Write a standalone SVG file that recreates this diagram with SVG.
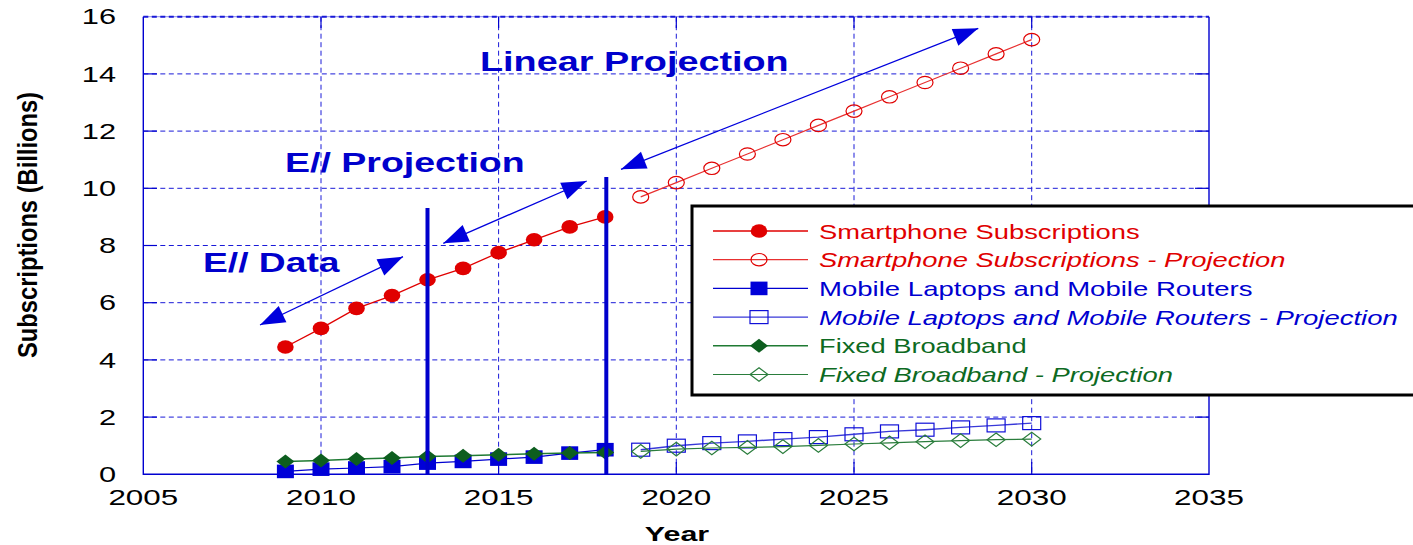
<svg xmlns="http://www.w3.org/2000/svg" xmlns:xlink="http://www.w3.org/1999/xlink" width="1413" height="545" viewBox="0 0 1413 545">
<style>
  text { font-family: "Liberation Sans", Arial, sans-serif; }
  .grid { stroke: #1a1ad8; stroke-width: 1; stroke-dasharray: 5 3.5; fill: none; }
  .axis { stroke: #0000d0; stroke-width: 1.4; fill: none; }
  .tick { stroke: #0000d0; stroke-width: 1.2; }
  .num { font-size: 21.5px; fill: #000; }
  .ann { font-size: 28px; font-weight: bold; fill: #0000cc; }
  .leg { font-size: 20px; }
  .red { fill: #e00000; }
  .blue { fill: #0000d0; }
  .green { fill: #0d6a22; }
  .it { font-style: italic; }
  .lred { stroke: #e00000; stroke-width: 1.3; fill: none; }
  .lredp { stroke: #e83030; stroke-width: 1.2; fill: none; }
  .lblue { stroke: #0000d0; stroke-width: 1.2; fill: none; }
  .lbluep { stroke: #3838d8; stroke-width: 1.4; fill: none; }
  .lgreen { stroke: #1f7a33; stroke-width: 1.5; fill: none; }
  .lgreenp { stroke: #2a7d3c; stroke-width: 1.2; fill: none; }
  .bar { stroke: #0000cc; stroke-width: 4; }
  .arr { stroke: #0000dd; stroke-width: 1.3; fill: none; marker-start: url(#ah); marker-end: url(#ah); }
</style>
<defs>
  <marker id="ah" markerUnits="userSpaceOnUse" markerWidth="30" markerHeight="22" viewBox="0 -11 26 22" refX="25" refY="0" orient="auto-start-reverse">
    <path d="M0,-9 L25,0 L0,9 Z" fill="#0000dd"/>
  </marker>
  <ellipse id="dotF" rx="8.3" ry="6.8" fill="#e00000"/>
  <ellipse id="dotO" rx="8" ry="6.2" fill="none" stroke="#e00000" stroke-width="1.2"/>
  <rect id="sqF" x="-8.5" y="-6.8" width="17" height="13.6" fill="#0000d8"/>
  <rect id="sqO" x="-9" y="-6.5" width="18" height="13" fill="none" stroke="#1010d8" stroke-width="1.2"/>
  <polygon id="diaF" points="0,-7 9,0 0,7 -9,0" fill="#0d5e1f"/>
  <polygon id="diaO" points="0,-6.8 9,0 0,6.8 -9,0" fill="none" stroke="#2a7d3c" stroke-width="1.2"/>
</defs>

<rect x="0" y="0" width="1413" height="545" fill="#ffffff"/>

<g id="grid">
  <line class="grid" x1="143.3" y1="417.1" x2="1209" y2="417.1"/>
  <line class="grid" x1="143.3" y1="359.9" x2="1209" y2="359.9"/>
  <line class="grid" x1="143.3" y1="302.7" x2="1209" y2="302.7"/>
  <line class="grid" x1="143.3" y1="245.5" x2="1209" y2="245.5"/>
  <line class="grid" x1="143.3" y1="188.3" x2="1209" y2="188.3"/>
  <line class="grid" x1="143.3" y1="131.1" x2="1209" y2="131.1"/>
  <line class="grid" x1="143.3" y1="73.9" x2="1209" y2="73.9"/>
  <line class="grid" x1="321" y1="16.7" x2="321" y2="474.3"/>
  <line class="grid" x1="498.6" y1="16.7" x2="498.6" y2="474.3"/>
  <line class="grid" x1="676.3" y1="16.7" x2="676.3" y2="474.3"/>
  <line class="grid" x1="854" y1="16.7" x2="854" y2="474.3"/>
  <line class="grid" x1="1031.7" y1="16.7" x2="1031.7" y2="474.3"/>
  <line x1="143.3" y1="16.7" x2="1209" y2="16.7" stroke="#8a8ae8" stroke-width="1"/>
  <line x1="143.3" y1="16.7" x2="1209" y2="16.7" stroke="#1a1ad8" stroke-width="2" stroke-dasharray="5 3.5"/>
  <path class="axis" d="M143.3,16.7 V474.3 H1209 V16.7"/>
  <g class="tick">
    <line x1="143.3" y1="417.1" x2="157" y2="417.1"/><line x1="143.3" y1="359.9" x2="157" y2="359.9"/>
    <line x1="143.3" y1="302.7" x2="157" y2="302.7"/><line x1="143.3" y1="245.5" x2="157" y2="245.5"/>
    <line x1="143.3" y1="188.3" x2="157" y2="188.3"/><line x1="143.3" y1="131.1" x2="157" y2="131.1"/>
    <line x1="143.3" y1="73.9" x2="157" y2="73.9"/>
    <line x1="1195" y1="417.1" x2="1209" y2="417.1"/><line x1="1195" y1="359.9" x2="1209" y2="359.9"/>
    <line x1="1195" y1="302.7" x2="1209" y2="302.7"/><line x1="1195" y1="245.5" x2="1209" y2="245.5"/>
    <line x1="1195" y1="188.3" x2="1209" y2="188.3"/><line x1="1195" y1="131.1" x2="1209" y2="131.1"/>
    <line x1="1195" y1="73.9" x2="1209" y2="73.9"/>
    <line x1="321" y1="474.3" x2="321" y2="462"/><line x1="498.6" y1="474.3" x2="498.6" y2="462"/>
    <line x1="676.3" y1="474.3" x2="676.3" y2="462"/><line x1="854" y1="474.3" x2="854" y2="462"/>
    <line x1="1031.7" y1="474.3" x2="1031.7" y2="462"/>
    <line x1="321" y1="16.7" x2="321" y2="28"/><line x1="498.6" y1="16.7" x2="498.6" y2="28"/>
    <line x1="676.3" y1="16.7" x2="676.3" y2="28"/><line x1="854" y1="16.7" x2="854" y2="28"/>
    <line x1="1031.7" y1="16.7" x2="1031.7" y2="28"/>
  </g>
</g>

<g id="axis-labels">
  <g class="num" text-anchor="end">
    <text transform="translate(116,482) scale(1.43,1)">0</text>
    <text transform="translate(116,424.8) scale(1.43,1)">2</text>
    <text transform="translate(116,367.6) scale(1.43,1)">4</text>
    <text transform="translate(116,310.4) scale(1.43,1)">6</text>
    <text transform="translate(116,253.2) scale(1.43,1)">8</text>
    <text transform="translate(116,196) scale(1.43,1)">10</text>
    <text transform="translate(116,138.8) scale(1.43,1)">12</text>
    <text transform="translate(116,81.6) scale(1.43,1)">14</text>
    <text transform="translate(116,24.4) scale(1.43,1)">16</text>
  </g>
  <g class="num" text-anchor="middle">
    <text transform="translate(143.3,505) scale(1.46,1)">2005</text>
    <text transform="translate(321,505) scale(1.46,1)">2010</text>
    <text transform="translate(498.6,505) scale(1.46,1)">2015</text>
    <text transform="translate(676.3,505) scale(1.46,1)">2020</text>
    <text transform="translate(854,505) scale(1.46,1)">2025</text>
    <text transform="translate(1031.7,505) scale(1.46,1)">2030</text>
    <text transform="translate(1209,505) scale(1.46,1)">2035</text>
  </g>
  <text transform="translate(677,541) scale(1.45,1)" text-anchor="middle" font-size="21" font-weight="bold">Year</text>
  <text transform="translate(36.7,225) rotate(-90) scale(1,1.2)" text-anchor="middle" font-size="23.5" font-weight="bold" textLength="266" lengthAdjust="spacingAndGlyphs">Subscriptions (Billions)</text>
</g>

<g id="series-mobile">
  <polyline class="lblue" points="285.4,471.4 321,469.15 356.5,468 392,466.6 427.5,463.1 463.1,461.4 498.6,459.1 534.1,457.1 569.7,453.1 605.2,449.7"/>
  <polyline class="lbluep" points="640.7,449.7 676.3,445.7 711.8,443.1 747.4,441.4 782.9,439.1 818.4,437.1 854,434.3 889.5,431.4 925,429.7 960.6,427.4 996.1,425.4 1031.7,423.1"/>
  <use href="#sqF" x="285.4" y="471.4"/><use href="#sqF" x="321" y="469.15"/><use href="#sqF" x="356.5" y="468"/>
  <use href="#sqF" x="392" y="466.6"/><use href="#sqF" x="427.5" y="463.1"/><use href="#sqF" x="463.1" y="461.4"/>
  <use href="#sqF" x="498.6" y="459.1"/><use href="#sqF" x="534.1" y="457.1"/><use href="#sqF" x="569.7" y="453.1"/>
  <use href="#sqF" x="605.2" y="449.7"/>
  <use href="#sqO" x="640.7" y="449.7"/><use href="#sqO" x="676.3" y="445.7"/><use href="#sqO" x="711.8" y="443.1"/>
  <use href="#sqO" x="747.4" y="441.4"/><use href="#sqO" x="782.9" y="439.1"/><use href="#sqO" x="818.4" y="437.1"/>
  <use href="#sqO" x="854" y="434.3"/><use href="#sqO" x="889.5" y="431.4"/><use href="#sqO" x="925" y="429.7"/>
  <use href="#sqO" x="960.6" y="427.4"/><use href="#sqO" x="996.1" y="425.4"/><use href="#sqO" x="1031.7" y="423.1"/>
</g>

<g id="series-fixed">
  <polyline class="lgreen" points="285.4,461.4 321,460.6 356.5,459.1 392,458 427.5,456.6 463.1,455.7 498.6,454.8 534.1,453.7 569.7,453.1 605.2,452.6"/>
  <polyline class="lgreenp" points="640.7,451.4 676.3,449.1 711.8,448 747.4,447.4 782.9,446.6 818.4,445.4 854,444 889.5,442.8 925,441.7 960.6,440.6 996.1,439.7 1031.7,439.1"/>
  <use href="#diaF" x="285.4" y="461.4"/><use href="#diaF" x="321" y="460.6"/><use href="#diaF" x="356.5" y="459.1"/>
  <use href="#diaF" x="392" y="458"/><use href="#diaF" x="427.5" y="456.6"/><use href="#diaF" x="463.1" y="455.7"/>
  <use href="#diaF" x="498.6" y="454.8"/><use href="#diaF" x="534.1" y="453.7"/><use href="#diaF" x="569.7" y="453.1"/>
  <use href="#diaF" x="605.2" y="452.6"/>
  <use href="#diaO" x="640.7" y="451.4"/><use href="#diaO" x="676.3" y="449.1"/><use href="#diaO" x="711.8" y="448"/>
  <use href="#diaO" x="747.4" y="447.4"/><use href="#diaO" x="782.9" y="446.6"/><use href="#diaO" x="818.4" y="445.4"/>
  <use href="#diaO" x="854" y="444"/><use href="#diaO" x="889.5" y="442.8"/><use href="#diaO" x="925" y="441.7"/>
  <use href="#diaO" x="960.6" y="440.6"/><use href="#diaO" x="996.1" y="439.7"/><use href="#diaO" x="1031.7" y="439.1"/>
</g>

<g id="series-smartphone">
  <polyline class="lred" points="285.4,347 321,328.4 356.5,308.4 392,295.55 427.5,279.8 463.1,268.4 498.6,252.65 534.1,239.8 569.7,226.9 605.2,216.9"/>
  <polyline class="lredp" points="640.7,196.9 676.3,182.6 711.8,168.3 747.4,154 782.9,139.7 818.4,125.4 854,111.1 889.5,96.8 925,82.5 960.6,68.2 996.1,53.9 1031.7,39.6"/>
  <use href="#dotF" x="285.4" y="347"/><use href="#dotF" x="321" y="328.4"/><use href="#dotF" x="356.5" y="308.4"/>
  <use href="#dotF" x="392" y="295.55"/><use href="#dotF" x="427.5" y="279.8"/><use href="#dotF" x="463.1" y="268.4"/>
  <use href="#dotF" x="498.6" y="252.65"/><use href="#dotF" x="534.1" y="239.8"/><use href="#dotF" x="569.7" y="226.9"/>
  <use href="#dotF" x="605.2" y="216.9"/>
  <use href="#dotO" x="640.7" y="196.9"/><use href="#dotO" x="676.3" y="182.6"/><use href="#dotO" x="711.8" y="168.3"/>
  <use href="#dotO" x="747.4" y="154"/><use href="#dotO" x="782.9" y="139.7"/><use href="#dotO" x="818.4" y="125.4"/>
  <use href="#dotO" x="854" y="111.1"/><use href="#dotO" x="889.5" y="96.8"/><use href="#dotO" x="925" y="82.5"/>
  <use href="#dotO" x="960.6" y="68.2"/><use href="#dotO" x="996.1" y="53.9"/><use href="#dotO" x="1031.7" y="39.6"/>
</g>

<g id="bar-2013"><line class="bar" x1="427.5" y1="208" x2="427.5" y2="474.3"/></g>
<g id="bar-2018"><line class="bar" x1="606.3" y1="177" x2="606.3" y2="474.3"/></g>

<g id="connectors">
  <line class="arr" x1="260" y1="325" x2="403" y2="256.7"/>
  <line class="arr" x1="443.3" y1="243.3" x2="586.7" y2="181"/>
  <line class="arr" x1="621" y1="169.3" x2="978.3" y2="28.3"/>
</g>

<g id="label-linear"><text class="ann" transform="translate(480,70.5) scale(1.35,1)">Linear Projection</text></g>
<g id="label-eproj"><text class="ann" transform="translate(285,171.7) scale(1.34,1)">E// Projection</text></g>
<g id="label-edata"><text class="ann" transform="translate(203,271.7) scale(1.33,1)">E// Data</text></g>

<g id="legend">
  <rect x="692" y="206" width="740" height="189" fill="#ffffff" stroke="#000000" stroke-width="3"/>
  <line class="lred" x1="713" y1="231" x2="808" y2="231"/>
  <use href="#dotF" x="759" y="231"/>
  <text class="leg red" transform="translate(819,238.5) scale(1.37,1)" textLength="234" lengthAdjust="spacingAndGlyphs">Smartphone Subscriptions</text>
  <line class="lredp" x1="713" y1="259.7" x2="808" y2="259.7"/>
  <use href="#dotO" x="759" y="259.7"/>
  <text class="leg red it" transform="translate(819,267.2) scale(1.37,1)" textLength="340.5" lengthAdjust="spacingAndGlyphs">Smartphone Subscriptions - Projection</text>
  <line class="lblue" x1="713" y1="288.4" x2="808" y2="288.4"/>
  <use href="#sqF" x="759" y="288.4"/>
  <text class="leg blue" transform="translate(819,295.9) scale(1.37,1)" textLength="316.4" lengthAdjust="spacingAndGlyphs">Mobile Laptops and Mobile Routers</text>
  <line class="lbluep" x1="713" y1="317.1" x2="808" y2="317.1"/>
  <use href="#sqO" x="759" y="317.1"/>
  <text class="leg blue it" transform="translate(819,324.6) scale(1.37,1)" textLength="422.4" lengthAdjust="spacingAndGlyphs">Mobile Laptops and Mobile Routers - Projection</text>
  <line class="lgreen" x1="713" y1="345.8" x2="808" y2="345.8"/>
  <use href="#diaF" x="759" y="345.8"/>
  <text class="leg green" transform="translate(819,353.3) scale(1.37,1)" textLength="151.5" lengthAdjust="spacingAndGlyphs">Fixed Broadband</text>
  <line class="lgreenp" x1="713" y1="374.5" x2="808" y2="374.5"/>
  <use href="#diaO" x="759" y="374.5"/>
  <text class="leg green it" transform="translate(819,382) scale(1.37,1)" textLength="258.4" lengthAdjust="spacingAndGlyphs">Fixed Broadband - Projection</text>
</g>
</svg>
